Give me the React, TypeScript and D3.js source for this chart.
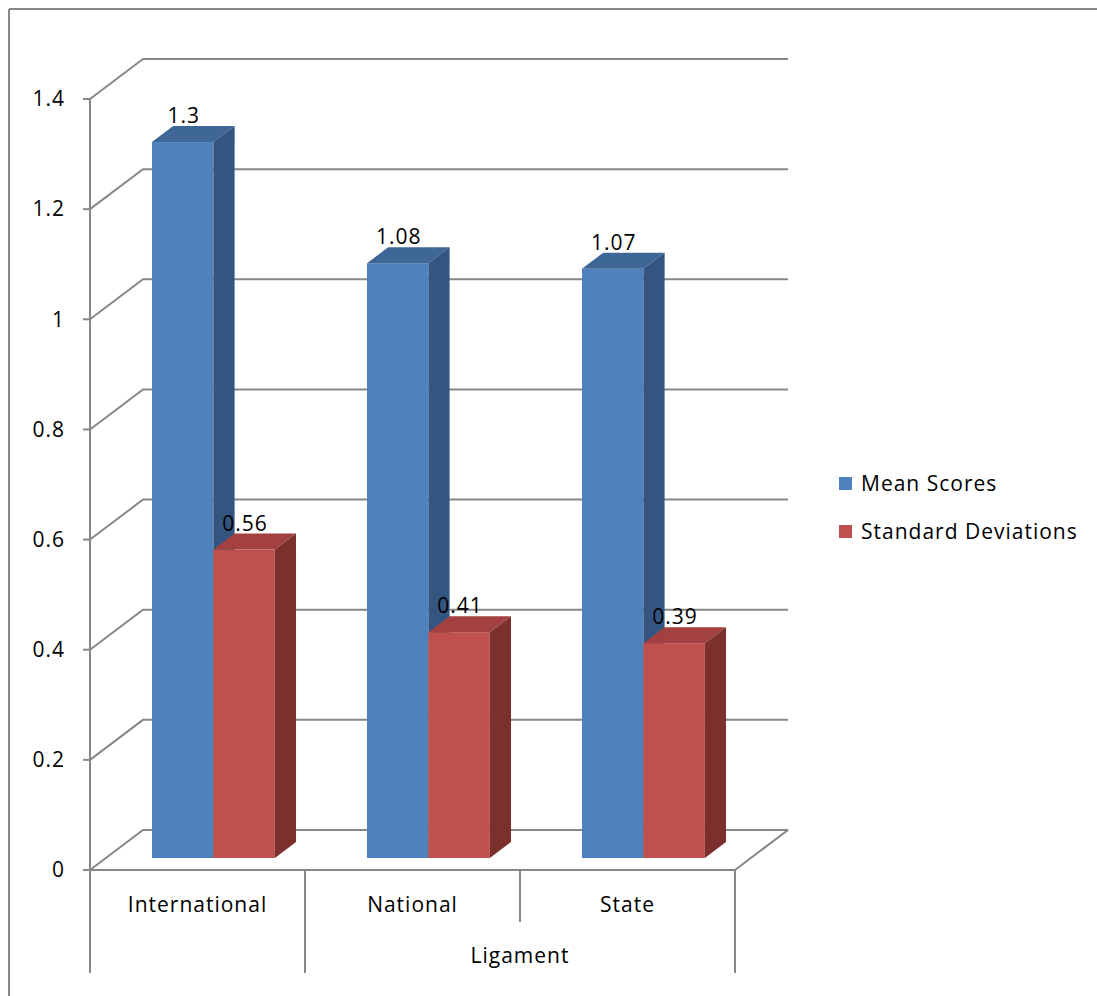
import * as d3 from "d3";

const categories = ["International", "National", "State"];
const seriesNames = ["Mean Scores", "Standard Deviations"];
const meanScores = [1.3, 1.08, 1.07];
const stdDevs = [0.56, 0.41, 0.39];
const yTicks = [0, 0.2, 0.4, 0.6, 0.8, 1, 1.2, 1.4];
const groupLabel = "Ligament";

const front = { face: ["#4F81BD", "#C0504D"], top: ["#3E6696", "#A2413F"], side: ["#345580", "#7B302E"] };

const W = 1097;
const H = 996;
const left = 90;
const right = 735;
const base = 870;
const topY = 99;
const DX = 53;
const DY = 40;
const d0 = 0.3;
const d1 = 0.7;
const FONT = "'Open Sans', sans-serif";
const FS = 21;
const LS = 1;
const GRID = "#878787";

export default function App() {
  const y = d3.scaleLinear().domain([0, 1.4]).range([base, topY]);
  const x = d3.scaleBand().domain(categories).range([left, right]).paddingInner(0).paddingOuter(0);
  const xs = d3.scaleBand().domain(seriesNames).range([0, x.bandwidth()]).paddingInner(0).paddingOuter(0.75);

  const values = [meanScores, stdDevs];
  const fmt = (v: number) => d3.format("")(v);

  const bars: any[] = [];
  categories.forEach((c, ci) => {
    seriesNames.forEach((s, si) => {
      const v = values[si][ci];
      const x0 = (x(c) as number) + (xs(s) as number) + d0 * DX;
      const x1 = x0 + xs.bandwidth();
      const yb = y(0) - d0 * DY;
      const yt = y(v) - d0 * DY;
      const ddx = (d1 - d0) * DX;
      const ddy = (d1 - d0) * DY;
      bars.push(
        <g key={c + s}>
          <rect x={x0} y={yt} width={x1 - x0} height={yb - yt} fill={front.face[si]} />
          <path d={`M${x0},${yt}L${x0 + ddx},${yt - ddy}L${x1 + ddx},${yt - ddy}L${x1},${yt}Z`} fill={front.top[si]} />
          <path d={`M${x1},${yt}L${x1 + ddx},${yt - ddy}L${x1 + ddx},${yb - ddy}L${x1},${yb}Z`} fill={front.side[si]} />
          <text x={(x0 + x1) / 2 + 1} y={yt - ddy - 3} textAnchor="middle" fontSize={FS} letterSpacing={LS} fontFamily={FONT} fill="#000">{fmt(v)}</text>
        </g>
      );
    });
  });

  return (
    <svg width={W} height={H} style={{ position: "absolute", left: 0, top: 0, background: "#fff" }}>
      <line x1={9} y1={9} x2={W} y2={9} stroke={GRID} strokeWidth={2} />
      <line x1={9} y1={9} x2={9} y2={H} stroke={GRID} strokeWidth={2} />

      {/* back wall gridlines */}
      {yTicks.map((t) => (
        <g key={t}>
          <polyline points={`${left},${y(t)} ${left + DX},${y(t) - DY} ${right + DX},${y(t) - DY}`} fill="none" stroke={GRID} strokeWidth={2} />
          <line x1={left - 7} y1={y(t)} x2={left} y2={y(t)} stroke={GRID} strokeWidth={2} />
          <text x={65} y={y(t)} dy="0.35em" textAnchor="end" fontSize={FS} letterSpacing={LS} fontFamily={FONT} fill="#000">{fmt(t)}</text>
        </g>
      ))}
      <line x1={left} y1={y(1.4)} x2={left} y2={973} stroke={GRID} strokeWidth={2} />
      <polyline points={`${left},${base} ${right},${base} ${right + DX},${base - DY}`} fill="none" stroke={GRID} strokeWidth={2} />

      {bars}

      {/* category separators */}
      {categories.map((c, i) => {
        const xr = (x(c) as number) + x.bandwidth();
        return (
          <g key={c}>
            <line x1={xr} y1={base} x2={xr} y2={i === 0 || i === categories.length - 1 ? 973 : 922} stroke={GRID} strokeWidth={2} />
            <text x={(x(c) as number) + x.bandwidth() / 2} y={905} dy="0.35em" textAnchor="middle" fontSize={FS} letterSpacing={LS} fontFamily={FONT} fill="#000">{c}</text>
          </g>
        );
      })}
      <text x={520} y={956} dy="0.35em" textAnchor="middle" fontSize={FS} letterSpacing={LS} fontFamily={FONT} fill="#000">{groupLabel}</text>

      {/* legend */}
      {seriesNames.map((s, i) => (
        <g key={s} transform={`translate(839,${477 + i * 48})`}>
          <rect x={0} y={0} width={13} height={13} fill={front.face[i]} />
          <text x={22} y={6.5} dy="0.35em" fontSize={FS} letterSpacing={LS} fontFamily={FONT} fill="#000">{s}</text>
        </g>
      ))}
    </svg>
  );
}
